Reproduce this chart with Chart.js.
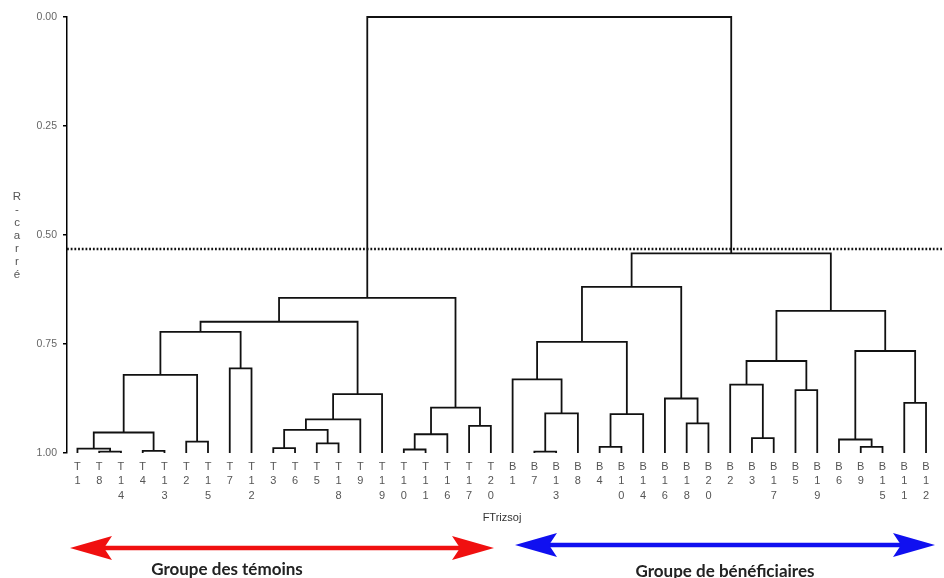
<!DOCTYPE html>
<html><head><meta charset="utf-8">
<script src="https://cdn.jsdelivr.net/npm/chart.js@4/dist/chart.umd.min.js"></script>
<style>
html,body{margin:0;padding:0;background:#fff;}
#wrap{position:relative;width:944px;height:578px;overflow:hidden;background:#fff;}
#c{position:absolute;left:0;top:0;}
.ytitle{position:absolute;left:10px;top:190px;width:14px;text-align:center;font:11.5px "Liberation Sans",Arial,sans-serif;line-height:13px;color:#555;}
.xtitle{position:absolute;left:402px;width:200px;top:511px;text-align:center;font:11px "Liberation Sans",Arial,sans-serif;color:#333;}
.grp{position:absolute;font-weight:bold;font-family:Lato,"Noto Sans",sans-serif;font-size:17px;line-height:18px;color:#222;white-space:nowrap;transform:translateX(-50%);}
svg{position:absolute;left:0;top:0;}
</style></head>
<body>
<div id="wrap">
<canvas id="c" width="944" height="578"></canvas>
<div class="ytitle">R<br>-<br>c<br>a<br>r<br>r<br>é</div>
<div class="xtitle">FTrizsoj</div>
<svg width="944" height="578">
  <line x1="100" y1="548" x2="465" y2="548" stroke="#f01010" stroke-width="4.5"/>
  <polygon points="70,548 112,536 104,548 112,560" fill="#f01010"/>
  <polygon points="494,548 452,536 460,548 452,560" fill="#f01010"/>
  <line x1="545" y1="545" x2="905" y2="545" stroke="#1010f0" stroke-width="4.5"/>
  <polygon points="515,545 557,533 549,545 557,557" fill="#1010f0"/>
  <polygon points="935,545 893,533 901,545 893,557" fill="#1010f0"/>
</svg>
<div class="grp" style="left:227px;top:560px;">Groupe des témoins</div>
<div class="grp" style="left:725px;top:562px;">Groupe de bénéficiaires</div>
</div>
<script>
// Leaf order (left to right)
const leafLabels = ['T1','T8','T14','T4','T13','T2','T15','T7','T12','T3','T6','T5','T18','T9','T19','T10','T11','T16','T17','T20',
                    'B1','B7','B13','B8','B4','B10','B14','B16','B18','B20','B2','B3','B17','B5','B19','B6','B9','B15','B11','B12'];
// Merges: children are leaf names or 'm<k>' (k = earlier merge index)
const mergeA = ['T8','T1','T4','m1','T2','m3','T7','m5','T3','T5','m8','m10','m11','m7','T10','m14','T17','m15','m13',
                'B7','m19','B1','B4','m22','m21','B18','B16','m24','B3','B2','B5','m29','B9','B6','B11','m33','m31','m27','m18'];
const mergeB = ['T14','m0','T13','m2','T15','m4','T12','m6','T6','T18','m9','T9','T19','m12','T11','T16','T20','m16','m17',
                'B13','B8','m20','B10','B14','m23','B20','m25','m26','B17','m28','B19','m30','B15','m32','B12','m34','m35','m36','m37'];
const mergeHeight = [0.997,0.990,0.995,0.953,0.974,0.821,0.806,0.722,0.989,0.978,0.947,0.923,0.865,0.699,0.992,0.957,0.938,0.896,0.644,
                     0.997,0.909,0.831,0.986,0.911,0.745,0.932,0.875,0.619,0.966,0.843,0.856,0.789,0.986,0.969,0.885,0.766,0.674,0.542,0.000];
const yTicks = [0, 0.25, 0.5, 0.75, 1];
const cutHeight = 0.532;
const leafHeight = 1;

// dendrogram layout from the tree
const nodes = {};
leafLabels.forEach((n, i) => nodes[n] = {x: i, h: leafHeight});
const datasets = [];
mergeA.forEach((a, k) => {
  const A = nodes[a], B = nodes[mergeB[k]], h = mergeHeight[k];
  nodes['m' + k] = {x: (A.x + B.x) / 2, h: h};
  datasets.push({
    data: [{x: A.x, y: A.h}, {x: A.x, y: h}, {x: B.x, y: h}, {x: B.x, y: B.h}],
    borderColor: '#111', borderWidth: 1.8, pointRadius: 0, tension: 0, clip: false, fill: false
  });
});
const xMin = -0.48, xMax = 39.78;
datasets.push({
  data: [{x: xMin, y: cutHeight}, {x: xMax, y: cutHeight}],
  borderColor: '#111', borderWidth: 2.6, borderDash: [1.8, 1.9], pointRadius: 0, clip: false, fill: false
});

new Chart(document.getElementById('c'), {
  type: 'line',
  data: {datasets},
  options: {
    responsive: false, animation: false,
    layout: {padding: {top: 17, right: 1, left: 0, bottom: 0}},
    plugins: {legend: {display: false}, tooltip: {enabled: false}},
    scales: {
      x: {
        type: 'linear', min: xMin, max: xMax,
        afterBuildTicks: s => { s.ticks = leafLabels.map((_, i) => ({value: i})); },
        afterFit: s => { s.height = 125; },
        grid: {display: false, drawTicks: false},
        border: {display: false},
        ticks: {autoSkip: false, maxRotation: 0, minRotation: 0, padding: 7, color: '#555',
          font: {family: 'Liberation Sans', size: 11, lineHeight: 1.3},
          callback: v => (leafLabels[v] || '').split('')}
      },
      y: {
        reverse: true, min: 0, max: 1,
        afterBuildTicks: s => { s.ticks = yTicks.map(v => ({value: v})); },
        afterFit: s => { s.width = 67; },
        grid: {drawOnChartArea: false, drawTicks: true, tickLength: 4, color: '#000', lineWidth: 1.5},
        border: {display: true, color: '#000', width: 1.5},
        ticks: {padding: 6, color: '#666', font: {family: 'Liberation Sans', size: 10.5},
          callback: v => Number(v).toFixed(2)}
      }
    }
  }
});
</script>
</body></html>
